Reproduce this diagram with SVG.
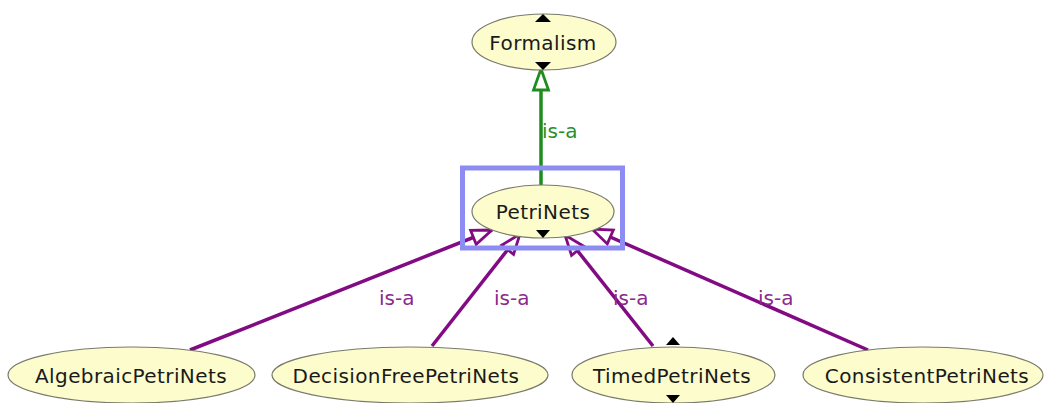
<svg xmlns="http://www.w3.org/2000/svg" width="1044" height="403" viewBox="0 0 1044 403">
<style>
.node ellipse{fill:#fcfccc;stroke:#7a7a6a;stroke-width:1.2}
.node text{font-family:"DejaVu Sans",sans-serif;font-size:20px;fill:#1a1a1a;text-anchor:middle;letter-spacing:0.4px}
.tri{fill:#000}
.lbl{font-family:"DejaVu Sans",sans-serif;font-size:20px}
.pe{stroke:#820a82;stroke-width:3.5;fill:none}
.ge{stroke:#1e8c1e;stroke-width:3.5;fill:none}
</style>
<defs>
<marker id="ap" markerUnits="userSpaceOnUse" markerWidth="30" markerHeight="24" viewBox="-24 -12 30 24" refX="0" refY="0" orient="auto">
<path d="M0,0 L-20,-7.5 L-20,7.5 Z" fill="#fff" stroke="#820a82" stroke-width="2.8" stroke-linejoin="miter"/>
</marker>
<marker id="ag" markerUnits="userSpaceOnUse" markerWidth="30" markerHeight="24" viewBox="-24 -12 30 24" refX="0" refY="0" orient="auto">
<path d="M0,0 L-21,-7.5 L-21,7.5 Z" fill="#fff" stroke="#1e8c1e" stroke-width="2.8"/>
</marker>
</defs>
<rect width="1044" height="403" fill="#fff"/>
<g id="connectors">
<line class="ge" x1="541" y1="185" x2="541" y2="69" marker-end="url(#ag)"/>
<line class="pe" x1="190" y1="350" x2="492" y2="230" marker-end="url(#ap)"/>
<line class="pe" x1="432" y1="346" x2="520" y2="234" marker-end="url(#ap)"/>
<line class="pe" x1="653" y1="346" x2="565" y2="235" marker-end="url(#ap)"/>
<line class="pe" x1="868" y1="350" x2="592" y2="229" marker-end="url(#ap)"/>
<text class="lbl" x="542" y="138" fill="#2a8f2a">is-a</text>
<text class="lbl" x="379" y="305" fill="#8a2a8a">is-a</text>
<text class="lbl" x="494" y="305" fill="#8a2a8a">is-a</text>
<text class="lbl" x="613" y="305" fill="#8a2a8a">is-a</text>
<text class="lbl" x="758" y="305" fill="#8a2a8a">is-a</text>
</g>
<g id="Formalism" class="node">
<ellipse cx="544" cy="42" rx="72" ry="28"/>
<text x="543" y="50">Formalism</text>
<path class="tri" d="M535,22 L543,14 L551,22 Z"/>
<path class="tri" d="M535,62 L551,62 L543,70 Z"/>
</g>
<g id="PetriNets" class="node">
<ellipse cx="543" cy="211.5" rx="71" ry="26.5"/>
<text x="543" y="219">PetriNets</text>
<path class="tri" d="M536,230 L550,230 L543,238 Z"/>
</g>
<rect id="selection" x="462.5" y="168" width="160" height="80" fill="none" stroke="#8c8cf2" stroke-width="5"/>
<g id="AlgebraicPetriNets" class="node">
<ellipse cx="131.5" cy="375" rx="123.5" ry="28"/>
<text x="131" y="383">AlgebraicPetriNets</text>
</g>
<g id="DecisionFreePetriNets" class="node">
<ellipse cx="410" cy="375" rx="138" ry="28"/>
<text x="406" y="383">DecisionFreePetriNets</text>
</g>
<g id="TimedPetriNets" class="node">
<ellipse cx="673.5" cy="375" rx="101.5" ry="28"/>
<text x="672" y="383">TimedPetriNets</text>
<path class="tri" d="M666,345 L673,337 L680,345 Z"/>
<path class="tri" d="M666,395 L680,395 L673,403 Z"/>
</g>
<g id="ConsistentPetriNets" class="node">
<ellipse cx="923" cy="375" rx="120" ry="28"/>
<text x="927" y="383">ConsistentPetriNets</text>
</g>
</svg>
